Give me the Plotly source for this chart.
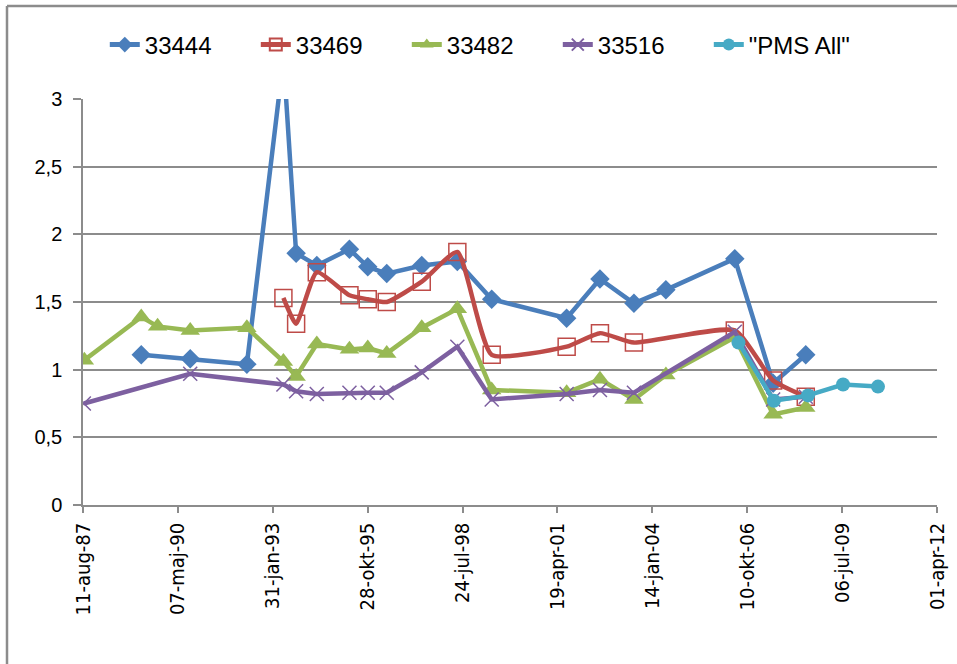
import plotly.graph_objects as go

# ---- data ----
dates_33444 = ["1989-04-16", "1990-09-14", "1992-05-03", "1993-05-24", "1993-10-04",
               "1994-05-10", "1995-04-19", "1995-10-29", "1996-05-16", "1997-05-20",
               "1998-05-30", "1999-05-27", "2001-07-25", "2002-07-11", "2003-07-04",
               "2004-06-05", "2006-06-01", "2007-07-10", "2008-06-18"]
vals_33444 = [1.11, 1.08, 1.04, 3.3, 1.86, 1.77, 1.89, 1.76, 1.71, 1.77,
              1.80, 1.52, 1.38, 1.67, 1.49, 1.59, 1.82, 0.90, 1.11]

dates_33469 = ["1993-05-23", "1993-10-04", "1994-05-10", "1995-04-19", "1995-10-29",
               "1996-05-16", "1997-05-20", "1998-05-30", "1999-05-27", "2001-07-25",
               "2002-07-11", "2003-07-04", "2006-06-01", "2007-07-10", "2008-06-18"]
vals_33469 = [1.53, 1.34, 1.72, 1.55, 1.52, 1.50, 1.65, 1.87, 1.11, 1.17,
              1.27, 1.20, 1.29, 0.92, 0.80]

dates_33482 = ["1987-08-25", "1989-04-16", "1989-10-05", "1990-09-14", "1992-05-03",
               "1993-05-23", "1993-10-04", "1994-05-10", "1995-04-19", "1995-10-29",
               "1996-05-16", "1997-05-20", "1998-05-30", "1999-05-27", "2001-07-25",
               "2002-07-11", "2003-07-04", "2004-06-05", "2006-06-01", "2007-07-10",
               "2008-06-18"]
vals_33482 = [1.07, 1.39, 1.32, 1.29, 1.31, 1.06, 0.95, 1.19, 1.15, 1.16,
              1.12, 1.31, 1.45, 0.85, 0.83, 0.93, 0.78, 0.96, 1.24, 0.67,
              0.72]

dates_33516 = ["1987-08-20", "1990-09-14", "1993-05-23", "1993-10-04", "1994-05-10",
               "1995-04-19", "1995-10-29", "1996-05-16", "1997-05-20", "1998-05-30",
               "1999-05-27", "2001-07-25", "2002-07-11", "2003-07-04", "2006-06-01",
               "2007-07-10", "2008-06-18"]
vals_33516 = [0.75, 0.97, 0.89, 0.84, 0.82, 0.83, 0.83, 0.83, 0.98, 1.17,
              0.78, 0.82, 0.85, 0.83, 1.28, 0.78, 0.80]

dates_pms = ["2006-07-10", "2007-07-18", "2008-07-12", "2009-07-16", "2010-07-19"]
vals_pms = [1.20, 0.77, 0.81, 0.89, 0.875]

tick_dates = ["1987-08-11", "1990-05-07", "1993-01-31", "1995-10-28", "1998-07-24",
              "2001-04-19", "2004-01-14", "2006-10-10", "2009-07-06", "2012-04-01"]
tick_labels = ["11-aug-87", "07-maj-90", "31-jan-93", "28-okt-95", "24-jul-98",
               "19-apr-01", "14-jan-04", "10-okt-06", "06-jul-09", "01-apr-12"]
y_ticks = [0, 0.5, 1, 1.5, 2, 2.5, 3]
y_labels = ["0", "0,5", "1", "1,5", "2", "2,5", "3"]

# ---- figure ----
LW = 4.5
fig = go.Figure()
fig.add_trace(go.Scatter(x=dates_33444, y=vals_33444, name="33444", mode="lines+markers",
                         line=dict(color="#4A7EBB", width=LW),
                         marker=dict(symbol="diamond", size=15, color="#4A7EBB")))
fig.add_trace(go.Scatter(x=dates_33469, y=vals_33469, name="33469", mode="lines+markers",
                         line=dict(color="#BE4B48", width=LW, shape="spline", smoothing=0.5),
                         marker=dict(symbol="square-open", size=17, color="#BE4B48",
                                     line=dict(width=1.5, color="#BE4B48"))))
fig.add_trace(go.Scatter(x=dates_33482, y=vals_33482, name="33482", mode="lines+markers",
                         line=dict(color="#98B954", width=LW),
                         marker=dict(symbol="triangle-up", size=17, color="#98B954")))
fig.add_trace(go.Scatter(x=dates_33516, y=vals_33516, name="33516", mode="lines+markers",
                         line=dict(color="#7D60A0", width=LW),
                         marker=dict(symbol="x-thin", size=14, color="#7D60A0",
                                     line=dict(width=1.5, color="#7D60A0"))))
fig.add_trace(go.Scatter(x=dates_pms, y=vals_pms, name='"PMS All"', mode="lines+markers",
                         line=dict(color="#46AAC5", width=LW),
                         marker=dict(symbol="circle", size=14, color="#46AAC5")))

GRID = "#8C8C8C"
LABEL_FONT = "Liberation Sans, Arial, sans-serif"
fig.update_layout(
    width=957, height=664,
    margin=dict(l=83, r=20, t=99, b=159, autoexpand=False),
    paper_bgcolor="white", plot_bgcolor="white",
    showlegend=True,
    legend=dict(orientation="h", xref="container", yref="container",
                x=0.1095, y=1 - 45 / 664, xanchor="left", yanchor="middle",
                font=dict(family=LABEL_FONT, size=24, color="black"),
                entrywidth=106, entrywidthmode="pixels", itemsizing="constant",
                traceorder="normal"),
    xaxis=dict(type="date", range=["1987-08-11", "2012-04-01"], automargin=False,
               tickmode="array", tickvals=tick_dates, ticktext=tick_labels,
               tickangle=-90, ticks="outside", ticklen=6, tickcolor=GRID, tickwidth=1.5,
               showline=True, linecolor=GRID, linewidth=1.5, showgrid=False, zeroline=False,
               ticklabelstandoff=2,
               tickfont=dict(family="DejaVu Sans Condensed, DejaVu Sans, sans-serif",
                             size=20, color="black")),
    yaxis=dict(range=[0, 3], automargin=False, tickmode="array", tickvals=y_ticks, ticktext=y_labels,
               ticks="outside", ticklen=8, tickcolor=GRID, tickwidth=1.5,
               showline=True, linecolor=GRID, linewidth=1.5,
               showgrid=True, gridcolor=GRID, gridwidth=1.5, zeroline=False,
               ticklabelstandoff=7,
               tickfont=dict(family=LABEL_FONT, size=20, color="black")),
)

# outer chart border (left and top visible)
fig.add_shape(type="line", xref="paper", yref="paper",
              x0=(7 - 83) / 854, x1=(7 - 83) / 854, y0=(505 - 6) / 406, y1=-0.5,
              line=dict(color="#8C8C8C", width=2.5))
fig.add_shape(type="line", xref="paper", yref="paper",
              x0=(7 - 83) / 854, x1=1.1, y0=(505 - 6) / 406, y1=(505 - 6) / 406,
              line=dict(color="#8C8C8C", width=2.5))

fig.write_html("out.html", config={"displayModeBar": False},
               post_script="document.body.style.margin='0px';")
